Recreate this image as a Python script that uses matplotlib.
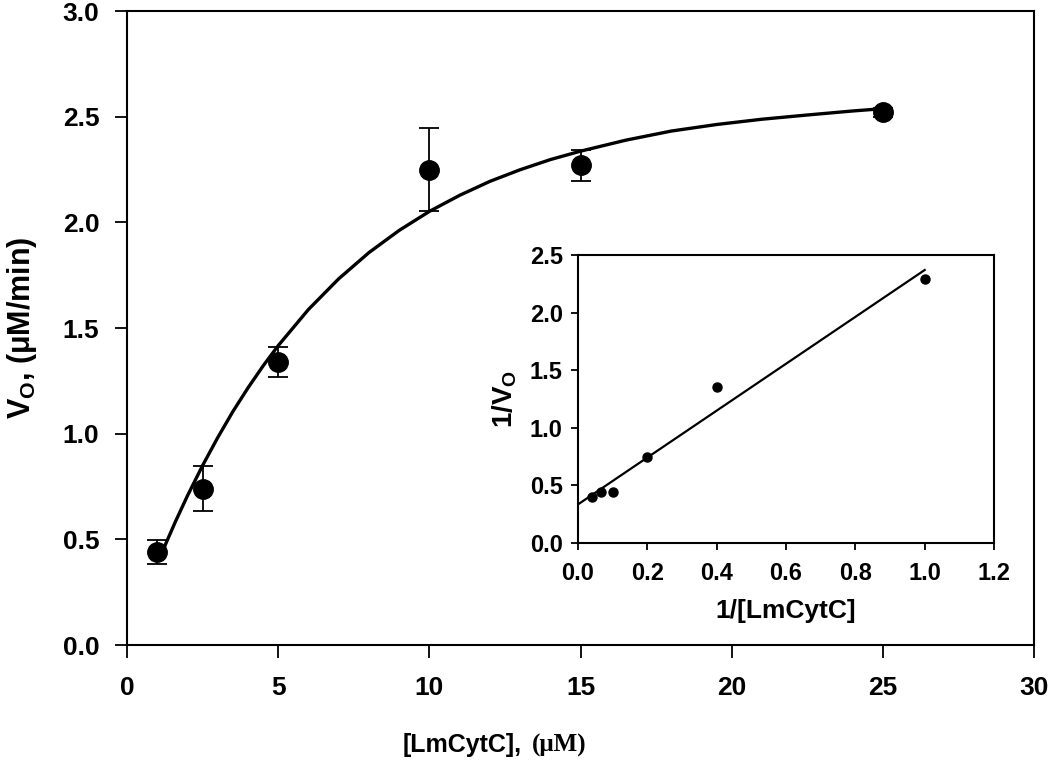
import matplotlib
matplotlib.use('Agg')
from matplotlib import pyplot as plt

plt.rcParams['font.family'] = ['Liberation Sans', 'DejaVu Sans']
plt.rcParams['font.weight'] = 'bold'
plt.rcParams['mathtext.fontset'] = 'custom'
plt.rcParams['mathtext.rm'] = 'Liberation Sans:bold'
plt.rcParams['mathtext.bf'] = 'Liberation Sans:bold'

# main plot data: substrate conc vs initial rate
conc = [1, 2.5, 5, 10, 15, 25]
rate = [0.44, 0.74, 1.34, 2.25, 2.27, 2.52]
rate_err = [0.057, 0.105, 0.07, 0.197, 0.074, 0.02]

# fitted curve
fit_x = [1.2, 1.6, 2.0, 2.5, 3.0, 3.5, 4.0, 4.5, 5.0, 6.0, 7.0, 8.0, 9.0, 10.0,
         11.0, 12.0, 13.0, 14.0, 15.0, 16.5, 18.0, 19.5, 21.0, 22.5, 24.0, 25.0]
fit_y = [0.453, 0.584, 0.707, 0.850, 0.982, 1.105, 1.217, 1.321, 1.417, 1.588,
         1.733, 1.857, 1.962, 2.052, 2.128, 2.194, 2.249, 2.297, 2.337, 2.389,
         2.432, 2.463, 2.488, 2.508, 2.527, 2.538]

# inset: double reciprocal
inv_conc = [0.04, 0.0667, 0.1, 0.2, 0.4, 1.0]
inv_rate = [0.397, 0.44, 0.445, 0.746, 1.357, 2.29]
lin_x = [0.0, 1.0]
lin_y = [0.335, 2.37]

fig = plt.figure(figsize=(10.5, 7.64), dpi=100)

# main axes
ax = fig.add_axes([0.121, 0.1557, 0.864, 0.8299])
ax.plot(fit_x, fit_y, color='black', linewidth=2.4, zorder=2)
ax.errorbar(conc, rate, yerr=rate_err, fmt='o', color='black', markersize=14,
            capsize=7, elinewidth=1.3, capthick=1.3, zorder=3)
ax.set_xlim(0, 30)
ax.set_ylim(0, 3.0)
ax.set_xticks([0, 5, 10, 15, 20, 25, 30])
ax.set_yticks([0.0, 0.5, 1.0, 1.5, 2.0, 2.5, 3.0])
ax.set_yticklabels(['0.0', '0.5', '1.0', '1.5', '2.0', '2.5', '3.0'])
ax.tick_params(axis='both', direction='out', length=9, width=1.3, labelsize=19)
ax.tick_params(axis='y', pad=11)
ax.tick_params(axis='x', pad=13)
for s in ax.spines.values():
    s.set_linewidth(1.5)

# axis labels; the unit part is in a serif face, chained after the first text
xl = fig.text(403 / 1050, 1 - 745 / 764, '[LmCytC],', fontsize=18, fontweight='bold',
              ha='left', va='center')
ax.annotate('(μM)', xy=(1, 0.5), xycoords=xl, xytext=(7, 0), textcoords='offset points',
            fontsize=18, fontweight='bold', family='Liberation Serif',
            ha='left', va='center', annotation_clip=False)
fig.text(22 / 1050, 1 - 328 / 764, 'V$_{\\mathrm{O}}$, (μM/min)', fontsize=22,
         fontweight='bold', rotation=90, ha='center', va='center')

# inset
ins = fig.add_axes([0.5505, 0.2893, 0.3962, 0.3769])
ins.plot(lin_x, lin_y, color='black', linewidth=1.6, zorder=2)
ins.plot(inv_conc, inv_rate, 'o', color='black', markersize=6.5, zorder=3)
ins.set_xlim(0, 1.2)
ins.set_ylim(0, 2.5)
ins.set_xticks([0.0, 0.2, 0.4, 0.6, 0.8, 1.0, 1.2])
ins.set_yticks([0.0, 0.5, 1.0, 1.5, 2.0, 2.5])
ins.set_xticklabels(['0.0', '0.2', '0.4', '0.6', '0.8', '1.0', '1.2'])
ins.set_yticklabels(['0.0', '0.5', '1.0', '1.5', '2.0', '2.5'])
ins.tick_params(axis='both', direction='out', length=5, width=1.3, labelsize=17)
ins.tick_params(axis='y', pad=6)
ins.tick_params(axis='x', pad=9)
for s in ins.spines.values():
    s.set_linewidth(1.5)
ins.set_xlabel('1/[LmCytC]', fontsize=19, fontweight='bold', labelpad=10)
ins.set_ylabel('1/V$_{\\mathrm{O}}$', fontsize=20, fontweight='bold', labelpad=8)

plt.savefig('out.png', dpi=100)
